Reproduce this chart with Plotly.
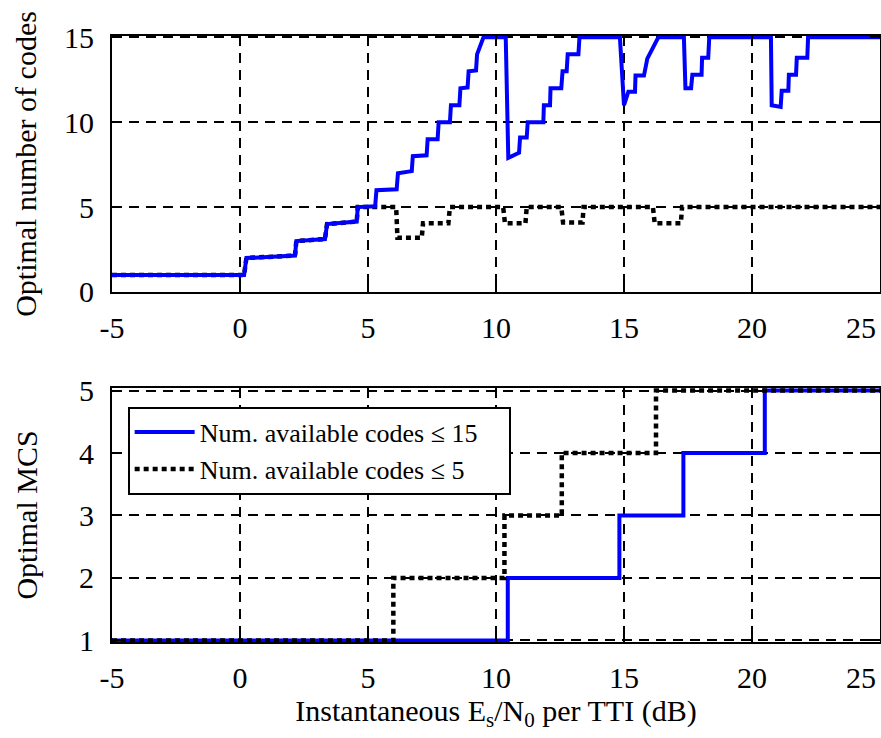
import plotly.graph_objects as go

# ---------------- data ----------------
# Top panel: optimal number of codes vs instantaneous Es/N0 (dB)
snr_codes15 = [-5.0, 0.16, 0.25, 2.15, 2.2, 3.32, 3.4, 4.56, 4.6, 5.28, 5.33, 6.12, 6.17,
               6.71, 6.75, 7.29, 7.33, 7.72, 7.76, 8.2, 8.24, 8.57, 8.61, 8.89, 8.93,
               9.22, 9.26, 9.51, 10.38, 10.48, 10.9, 10.94, 11.2, 11.24, 11.85, 11.87,
               12.11, 12.13, 12.55, 12.6, 12.76, 12.8, 13.22, 13.26, 14.84, 15.0, 15.17,
               15.43, 15.45, 15.78, 15.91, 16.34, 17.34, 17.4, 17.62, 17.67, 18.03, 18.05,
               18.29, 18.33, 20.74, 20.77, 21.12, 21.16, 21.42, 21.44, 21.72, 21.75,
               22.16, 22.19, 25.0]
codes15 = [1.0, 1.0, 2.0, 2.15, 3.0, 3.12, 4.0, 4.15, 5.0, 5.05, 6.0, 6.05, 7.0,
           7.12, 8.0, 8.05, 9.0, 9.0, 10.0, 10.0, 11.0, 11.0, 12.0, 12.05, 13.0,
           13.05, 14.0, 15.0, 15.0, 7.9, 8.2, 9.1, 9.1, 10.0, 10.0, 11.0,
           11.0, 12.0, 12.0, 13.0, 13.0, 14.0, 14.0, 15.0, 15.0, 11.0, 11.8,
           11.8, 12.75, 12.75, 13.75, 15.0, 15.0, 12.0, 12.0, 12.8, 12.8, 13.8,
           13.8, 15.0, 15.0, 11.0, 10.9, 11.85, 11.85, 12.8, 12.8, 13.8,
           13.8, 15.0, 15.0]

snr_codes5 = [-5.0, 0.16, 0.25, 2.15, 2.2, 3.32, 3.4, 4.56, 4.6, 6.1, 6.15, 7.1, 7.15,
              8.14, 8.2, 10.28, 10.35, 11.15, 11.2, 12.55, 12.62, 13.38, 13.42,
              16.13, 16.2, 17.22, 17.27, 25.0]
codes5 = [1.0, 1.0, 2.0, 2.15, 3.0, 3.12, 4.0, 4.15, 5.0, 5.0, 3.2, 3.2, 4.05,
          4.05, 5.0, 5.0, 4.05, 4.05, 5.0, 5.0, 4.1, 4.1, 5.0,
          5.0, 4.05, 4.05, 5.0, 5.0]

# Bottom panel: optimal MCS (step changes)
snr_mcs15 = [-5.0, 10.46, 14.82, 17.32, 20.5, 25.0]
mcs15 = [1, 2, 3, 4, 5, 5]
snr_mcs5 = [-5.0, 5.99, 10.33, 12.57, 16.25, 25.0]
mcs5 = [1, 2, 3, 4, 5, 5]

x_tick_vals = [-5, 0, 5, 10, 15, 20, 25]
x_tick_text = ["-5", "0", "5", "10", "15", "20", "25"]
codes_tick_vals = [0, 5, 10, 15]
codes_tick_text = ["0", "5", "10", "15"]
mcs_tick_vals = [1, 2, 3, 4, 5]
mcs_tick_text = ["1", "2", "3", "4", "5"]

series_names = ["Num. available codes \u2264 15", "Num. available codes \u2264 5"]

# ---------------- styling ----------------
FONT = "Liberation Serif, Times New Roman, serif"
BLUE = "#0000ff"
NB = "\u00a0"
# the last x label is drawn right-aligned at the figure edge (as in the original export)
x_tick_text_shown = x_tick_text[:-1] + [""]
legend_names = [n + NB * 4 for n in series_names]

fig = go.Figure()

# top panel
fig.add_trace(go.Scatter(x=snr_codes5, y=codes5, mode="lines", xaxis="x", yaxis="y",
                         line=dict(color="black", width=4.5, dash="5px,4px"),
                         showlegend=False, hoverinfo="skip"))
fig.add_trace(go.Scatter(x=snr_codes15, y=codes15, mode="lines", xaxis="x", yaxis="y",
                         line=dict(color=BLUE, width=4),
                         showlegend=False, hoverinfo="skip"))
# bottom panel
fig.add_trace(go.Scatter(x=snr_mcs15, y=mcs15, mode="lines", xaxis="x2", yaxis="y2",
                         line=dict(color=BLUE, width=4, shape="hv"),
                         name=legend_names[0]))
fig.add_trace(go.Scatter(x=snr_mcs5, y=mcs5, mode="lines", xaxis="x2", yaxis="y2",
                         line=dict(color="black", width=4.5, dash="5px,4px", shape="hv"),
                         name=legend_names[1]))

axis_common = dict(
    showline=True, linecolor="black", linewidth=2, mirror="ticks",
    ticks="inside", ticklen=10, tickwidth=2, tickcolor="black",
    showgrid=True, gridcolor="black", gridwidth=2, griddash="10px,7px",
    zeroline=False, automargin=False,
    tickfont=dict(family=FONT, size=30, color="black"),
)

fig.update_layout(
    width=881, height=738,
    margin=dict(l=112, r=1, t=36, b=96, autoexpand=False),
    paper_bgcolor="white", plot_bgcolor="white",
    font=dict(family=FONT, size=30, color="black"),
    xaxis=dict(axis_common, domain=[0, 1], anchor="y", range=[-5, 25],
               tickvals=x_tick_vals, ticktext=x_tick_text_shown, ticklabelstandoff=8),
    yaxis=dict(axis_common, domain=[0.5776, 1], anchor="x", range=[0, 15.08],
               tickvals=codes_tick_vals, ticktext=codes_tick_text, ticklabelstandoff=10,
               title=dict(text="Optimal number of codes", standoff=18,
                          font=dict(family=FONT, size=30))),
    xaxis2=dict(axis_common, domain=[0, 1], anchor="y2", range=[-5, 25],
                tickvals=x_tick_vals, ticktext=x_tick_text_shown, ticklabelstandoff=8,
                title=dict(text="Instantaneous E<sub>s</sub>/N<sub>0</sub> per TTI (dB)",
                           standoff=4, font=dict(family=FONT, size=30))),
    yaxis2=dict(axis_common, domain=[0, 0.4191], anchor="x2", range=[0.975, 5.04],
                tickvals=mcs_tick_vals, ticktext=mcs_tick_text, ticklabelstandoff=10,
                title=dict(text="Optimal MCS", standoff=32,
                           font=dict(family=FONT, size=30))),
    legend=dict(x=0.0204, y=0.3883, xanchor="left", yanchor="top",
                bgcolor="white", bordercolor="black", borderwidth=2,
                font=dict(family=FONT, size=26, color="black"),
                itemwidth=60, tracegroupgap=0),
)

# last tick label ("25") of each x axis, right-aligned so it stays inside the figure
for xr, yr in (("x", "y domain"), ("x2", "y2 domain")):
    fig.add_annotation(text=x_tick_text[-1], x=x_tick_vals[-1], xref=xr, y=0, yref=yr,
                       xanchor="right", yanchor="top", xshift=-2, yshift=-17,
                       showarrow=False, font=dict(family=FONT, size=30, color="black"))

fig.write_html("out.html", config={"displayModeBar": False},
               post_script="document.body.style.margin='0';")
